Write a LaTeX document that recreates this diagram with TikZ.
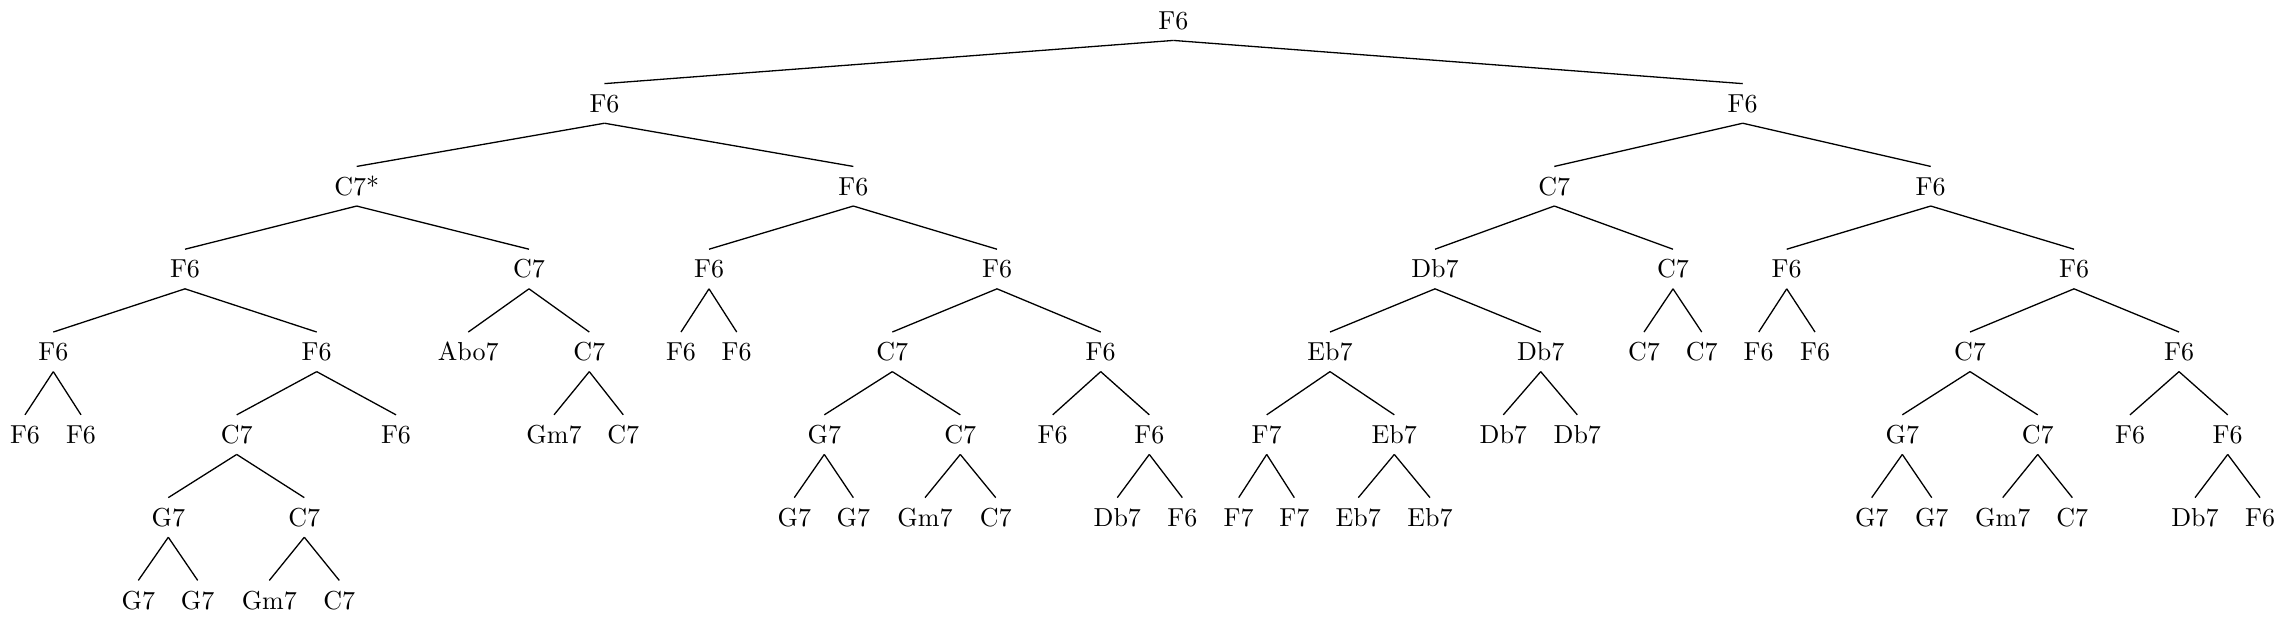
\documentclass[tikz,border=0pt]{standalone}
\begin{document}
\begin{tikzpicture}[x=0.3846pt,y=-0.3846pt,
  t/.style={anchor=base, inner xsep=0pt, inner ysep=4pt, text height=6.83pt, text depth=0pt},
  e/.style={line width=0.5pt}]
\useasboundingbox (0,0) rectangle (2285,619);
% level baselines
\def\La{29.5}\def\Lb{112.3}\def\Lc{195.1}\def\Ld{277.9}
\def\Le{360.7}\def\Lf{443.5}\def\Lg{526.3}\def\Lh{609.1}
% level 0
\node[t] (r) at (1173.3,\La) {F6};
% level 1
\node[t] (a) at (604.5,\Lb) {F6};
\node[t] (b) at (1742.7,\Lb) {F6};
% level 2
\node[t] (aa) at (356.7,\Lc) {C7*};
\node[t] (ab) at (853.3,\Lc) {F6};
\node[t] (ba) at (1554.3,\Lc) {C7};
\node[t] (bb) at (1930.7,\Lc) {F6};
% level 3
\node[t] (aaa) at (185,\Ld) {F6};
\node[t] (aab) at (529,\Ld) {C7};
\node[t] (aba) at (709,\Ld) {F6};
\node[t] (abb) at (997,\Ld) {F6};
\node[t] (baa) at (1435,\Ld) {Db7};
\node[t] (bab) at (1673,\Ld) {C7};
\node[t] (bba) at (1786.7,\Ld) {F6};
\node[t] (bbb) at (2074,\Ld) {F6};
% level 4
\node[t] (aaaa) at (53.3,\Le) {F6};
\node[t] (aaab) at (316.7,\Le) {F6};
\node[t] (aaba) at (468.3,\Le) {Abo7};
\node[t] (aabb) at (589.3,\Le) {C7};
\node[t] (abaa) at (681,\Le) {F6};
\node[t] (abab) at (736.7,\Le) {F6};
\node[t] (abba) at (892.3,\Le) {C7};
\node[t] (abbb) at (1100.7,\Le) {F6};
\node[t] (baaa) at (1330,\Le) {Eb7};
\node[t] (baab) at (1540.7,\Le) {Db7};
\node[t] (baba) at (1644,\Le) {C7};
\node[t] (babb) at (1701.7,\Le) {C7};
\node[t] (bbaa) at (1758.7,\Le) {F6};
\node[t] (bbab) at (1815,\Le) {F6};
\node[t] (bbba) at (1970,\Le) {C7};
\node[t] (bbbb) at (2179,\Le) {F6};
% level 5
\node[t] (aaaaa) at (25,\Lf) {F6};
\node[t] (aaaab) at (81,\Lf) {F6};
\node[t] (aaaba) at (236.7,\Lf) {C7};
\node[t] (aaabb) at (396,\Lf) {F6};
\node[t] (aabba) at (554,\Lf) {Gm7};
\node[t] (aabbb) at (623.3,\Lf) {C7};
\node[t] (abbaa) at (824.3,\Lf) {G7};
\node[t] (abbab) at (960.3,\Lf) {C7};
\node[t] (abbba) at (1052.7,\Lf) {F6};
\node[t] (abbbb) at (1149.3,\Lf) {F6};
\node[t] (baaaa) at (1266.7,\Lf) {F7};
\node[t] (baaab) at (1394.3,\Lf) {Eb7};
\node[t] (baaba) at (1503.3,\Lf) {Db7};
\node[t] (baabb) at (1577.3,\Lf) {Db7};
\node[t] (bbbaa) at (1902.3,\Lf) {G7};
\node[t] (bbbab) at (2037.7,\Lf) {C7};
\node[t] (bbbba) at (2130,\Lf) {F6};
\node[t] (bbbbb) at (2227.7,\Lf) {F6};
% level 6
\node[t] (aaabaa) at (168.3,\Lg) {G7};
\node[t] (aaabab) at (304.3,\Lg) {C7};
\node[t] (abbaaa) at (794.3,\Lg) {G7};
\node[t] (abbaab) at (853.3,\Lg) {G7};
\node[t] (abbaba) at (925,\Lg) {Gm7};
\node[t] (abbabb) at (995.7,\Lg) {C7};
\node[t] (abbbba) at (1117.3,\Lg) {Db7};
\node[t] (abbbbb) at (1182.3,\Lg) {F6};
\node[t] (baaaaa) at (1238.7,\Lg) {F7};
\node[t] (baaaab) at (1294.3,\Lg) {F7};
\node[t] (baaaba) at (1358.3,\Lg) {Eb7};
\node[t] (baaabb) at (1430,\Lg) {Eb7};
\node[t] (bbbaaa) at (1871.7,\Lg) {G7};
\node[t] (bbbaab) at (1931.7,\Lg) {G7};
\node[t] (bbbaba) at (2002.7,\Lg) {Gm7};
\node[t] (bbbabb) at (2072.3,\Lg) {C7};
\node[t] (bbbbba) at (2195,\Lg) {Db7};
\node[t] (bbbbbb) at (2260,\Lg) {F6};
% level 7
\node[t] (aaabaaa) at (138.3,\Lh) {G7};
\node[t] (aaabaab) at (197.7,\Lh) {G7};
\node[t] (aaababa) at (269.3,\Lh) {Gm7};
\node[t] (aaababb) at (339.3,\Lh) {C7};
% edges
\foreach \p/\c in {r/a, r/b,
  a/aa, a/ab, b/ba, b/bb,
  aa/aaa, aa/aab, ab/aba, ab/abb, ba/baa, ba/bab, bb/bba, bb/bbb,
  aaa/aaaa, aaa/aaab, aab/aaba, aab/aabb, aba/abaa, aba/abab, abb/abba, abb/abbb,
  baa/baaa, baa/baab, bab/baba, bab/babb, bba/bbaa, bba/bbab, bbb/bbba, bbb/bbbb,
  aaaa/aaaaa, aaaa/aaaab, aaab/aaaba, aaab/aaabb, aabb/aabba, aabb/aabbb,
  abba/abbaa, abba/abbab, abbb/abbba, abbb/abbbb,
  baaa/baaaa, baaa/baaab, baab/baaba, baab/baabb,
  bbba/bbbaa, bbba/bbbab, bbbb/bbbba, bbbb/bbbbb,
  aaaba/aaabaa, aaaba/aaabab, abbaa/abbaaa, abbaa/abbaab, abbab/abbaba, abbab/abbabb,
  abbbb/abbbba, abbbb/abbbbb, baaaa/baaaaa, baaaa/baaaab, baaab/baaaba, baaab/baaabb,
  bbbaa/bbbaaa, bbbaa/bbbaab, bbbab/bbbaba, bbbab/bbbabb, bbbbb/bbbbba, bbbbb/bbbbbb,
  aaabaa/aaabaaa, aaabaa/aaabaab, aaabab/aaababa, aaabab/aaababb}
  \draw[e] (\p.south) -- (\c.north);
\end{tikzpicture}
\end{document}
